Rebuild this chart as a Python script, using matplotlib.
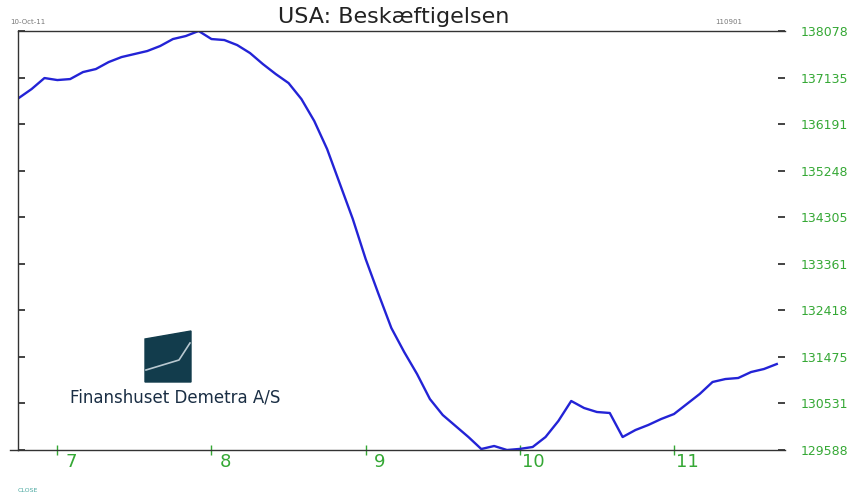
import numpy as np
import matplotlib
matplotlib.use("Agg")
import matplotlib.pyplot as plt
from matplotlib.patches import Polygon
from matplotlib.lines import Line2D

# US nonfarm payrolls (thousands), monthly Oct 2006 - Sep 2011
start_year, start_month = 2006, 10
employment = [
    136720, 136902, 137125, 137084, 137104, 137246, 137307, 137449, 137550, 137611,
    137672, 137773, 137915, 137976, 138078, 137915, 137895, 137793, 137631, 137408,
    137206, 137023, 136699, 136254, 135686, 134977, 134268, 133458, 132749, 132060,
    131573, 131128, 130621, 130297, 130074, 129851, 129608, 129669, 129588, 129610,
    129649, 129851, 130176, 130581, 130439, 130358, 130338, 129851, 129993, 130095,
    130216, 130317, 130520, 130723, 130966, 131026, 131047, 131168, 131229, 131330,
]
year_ticks = [2007, 2008, 2009, 2010, 2011]
year_labels = ["7", "8", "9", "10", "11"]

t = start_year + (start_month - 1) / 12 + np.arange(len(employment)) / 12
ymin, ymax = min(employment), max(employment)
yticks = np.linspace(ymin, ymax, 10)

W, H = 857, 498
fig = plt.figure(figsize=(W / 100, H / 100), dpi=100)
ax = fig.add_axes([18 / W, 1 - 450 / H, (785 - 18) / W, (450 - 31) / H])

green = "#35a835"
ax.plot(t, employment, color="#2323d6", lw=1.7)
ax.set_xlim(2006.745, 2011.72)
ax.set_ylim(ymin, ymax)

ax.spines["right"].set_visible(False)
for s in ["left", "top", "bottom"]:
    ax.spines[s].set_color("#333333")
    ax.spines[s].set_linewidth(1.0)

ax.set_yticks(yticks)
ax.set_yticklabels([f"{v:.0f}" for v in yticks])
ax.tick_params(axis="y", left=True, right=True, labelleft=False, labelright=True,
               direction="in", length=5, width=1.2, color="#222222",
               labelcolor=green, labelsize=9, pad=11)

ax.set_xticks(year_ticks)
ax.set_xticklabels([])
ax.tick_params(axis="x", which="major", direction="inout", length=7, width=1, color=green)
ax.set_xticks([y + 0.09 for y in year_ticks], minor=True)
ax.set_xticklabels(year_labels, minor=True)
ax.tick_params(axis="x", which="minor", length=0, pad=2, labelsize=13, labelcolor=green)

# bottom line slightly extends left of the axis
fig.add_artist(Line2D([10 / W, 18 / W], [1 - 450 / H] * 2, color="#333333", lw=1.0))

fig.text(394 / W, 1 - 17 / H, "USA: Beskæftigelsen", ha="center", va="center",
         fontsize=16, color="#222222")
fig.text(10 / W, 1 - 22 / H, "10-Oct-11", fontsize=5, color="#777777", va="center")
fig.text(715 / W, 1 - 22 / H, "110901", fontsize=5, color="#777777", va="center")
fig.text(18 / W, 1 - 490 / H, "CLOSE", fontsize=4.5, color="#4aa8a0", va="center")

# logo
def fxy(px, py):
    return (px / W, 1 - py / H)

logo = Polygon([fxy(145, 339), fxy(191, 331), fxy(191, 382), fxy(145, 382)],
               closed=True, color="#123c4c", transform=fig.transFigure)
fig.add_artist(logo)
lx, ly = zip(fxy(146, 370), fxy(179, 360), fxy(190, 343))
fig.add_artist(Line2D(lx, ly, color="#b8c8d0", lw=1.2))
fig.text(70 / W, 1 - 397 / H, "Finanshuset Demetra A/S", fontsize=12,
         color="#1a2e44", va="center", ha="left")

fig.savefig("out.png", dpi=100)
